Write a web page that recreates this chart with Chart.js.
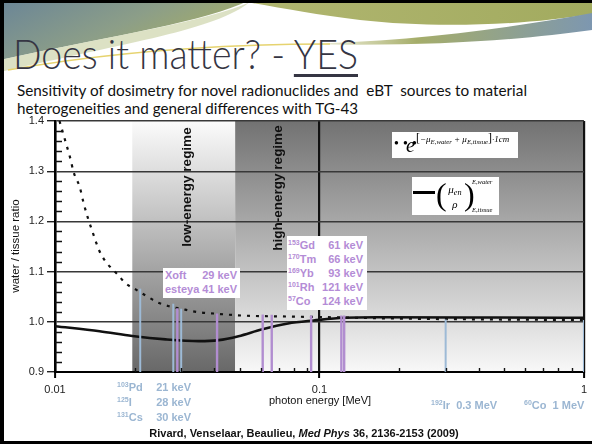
<!DOCTYPE html>
<html>
<head>
<meta charset="utf-8">
<script src="https://cdn.jsdelivr.net/npm/chart.js@4.4.1/dist/chart.umd.min.js"></script>
<style>
  html, body { margin:0; padding:0; background:#fff; }
  #slide { position:relative; width:592px; height:444px; overflow:hidden; background:#fff;
           font-family:"Liberation Sans", Arial, sans-serif; }
  #deco, #chart { position:absolute; left:0; top:0; }
  .abs { position:absolute; white-space:nowrap; }
  .edge { position:absolute; background:#000; }
  #title { left:13px; top:32px; font-family:Lato, "Open Sans", sans-serif; font-weight:300;
           font-size:42px; line-height:42px; color:#353543; transform-origin:0 50%; }
  #title u { text-decoration-thickness:2.5px; text-underline-offset:5px; }
  .sub { left:17px; font-family:Lato, "Open Sans", sans-serif; font-size:15px; line-height:18px;
         color:#111; transform-origin:0 50%; }
  .iso { font-weight:bold; font-size:11px; line-height:14px; }
  .iso sup { font-size:7px; vertical-align:4px; line-height:0; }
  .est { color:#9bb6d2; }
  .nov { color:#b48cd6; }
  .box { background:#fff; }
  .row { display:flex; justify-content:space-between; height:14px; line-height:14px; }
  .rot { transform:translate(-50%,-50%) rotate(-90deg); }
  .regime { font-weight:bold; font-size:13.5px; color:#111; }
  .math { font-family:"Liberation Serif", "DejaVu Serif", serif; font-style:italic; color:#000; }
  .math sub { font-size:0.75em; vertical-align:-2px; line-height:0; }
</style>
</head>
<body>
<div id="slide">
  <svg id="deco" width="592" height="90" viewBox="0 0 592 90">
    <defs>
      <linearGradient id="gL" x1="0" y1="0" x2="1" y2="0.5">
        <stop offset="0" stop-color="#6a8597"/>
        <stop offset="0.55" stop-color="#8c9e88"/>
        <stop offset="1" stop-color="#a8b063"/>
      </linearGradient>
      <linearGradient id="gR" x1="0" y1="0" x2="1" y2="0">
        <stop offset="0" stop-color="#b1b671"/>
        <stop offset="1" stop-color="#a2ab5f"/>
      </linearGradient>
      <linearGradient id="gB" x1="0" y1="0" x2="1" y2="0">
        <stop offset="0" stop-color="#c9c98f" stop-opacity="0.2"/>
        <stop offset="0.4" stop-color="#a5ad6a"/>
        <stop offset="1" stop-color="#7d97b0"/>
      </linearGradient>
    </defs>
    <path d="M0,0 H250 C205,22 120,34 0,60 Z" fill="url(#gL)"/>
    <path d="M0,60 C120,34 205,22 250,2 C215,30 130,42 0,72 Z" fill="#d3dab5" opacity="0.8"/>
    <path d="M235,0 H592 V14 C520,26 430,28 360,20 C310,14 270,6 235,0 Z" fill="url(#gR)"/>
    <path d="M300,44 C400,42 500,30 592,13 V30 C520,40 430,47 300,44 Z" fill="url(#gB)"/>
    <path d="M8,70 C110,52 210,44 330,44" stroke="#e6d36f" stroke-width="1.5" fill="none"/>
  </svg>

  <div id="title" class="abs">Does it matter? - <u>YES</u></div>
  <div id="sub1" class="abs sub" style="top:81px;">Sensitivity of dosimetry for novel radionuclides and&nbsp; eBT&nbsp; sources to material</div>
  <div id="sub2" class="abs sub" style="top:99px;">heterogeneities and general differences with TG-43</div>

  <canvas id="chart" width="592" height="444"></canvas>

  <div class="abs rot regime" style="left:186px;top:187px;">low-energy regime</div>
  <div class="abs rot regime" style="left:277px;top:188px;">high-energy regime</div>
  <div class="abs rot" style="left:15px;top:246px;font-size:11.5px;color:#111;">water / tissue ratio</div>
  <div class="abs" style="left:320px;top:400px;transform:translate(-50%,-50%);font-size:11px;color:#111;">photon energy [MeV]</div>
  <div class="abs" style="left:304px;top:433px;transform:translate(-50%,-50%);font-size:11px;font-weight:bold;color:#111;">Rivard, Venselaar, Beaulieu, <i>Med Phys</i> 36, 2136-2153 (2009)</div>

  <!-- isotope label groups, filled from the data arrays -->
  <div id="grpLow" class="abs iso est" style="left:117px;top:380px;width:74px;"></div>
  <div id="grpEbt" class="abs iso nov box" style="left:163px;top:268px;width:72px;height:30px;padding:0 3px 0 2px;"></div>
  <div id="grpHigh" class="abs iso nov box" style="left:287px;top:236px;width:75px;height:72px;padding:2px 4px 0 1px;"></div>
  <div id="grpIr" class="abs iso est" style="left:431px;top:398px;"></div>
  <div id="grpCo" class="abs iso est" style="left:524px;top:398px;"></div>

  <!-- curve keys -->
  <div class="abs box" style="left:392px;top:132px;width:126px;height:26px;">
    <span class="abs" style="left:2px;top:6px;font-size:8px;font-weight:bold;letter-spacing:1px;">&#9679; &#9679; &#9679;</span>
    <span class="abs math" style="left:14px;top:3px;font-size:20px;line-height:20px;">e</span>
    <span class="abs math" style="left:24px;top:1px;font-size:9px;line-height:10px;"><span style="font-style:normal;font-size:12px;">[</span>&minus;&mu;<sub>E,water</sub> + &mu;<sub>E,tissue</sub><span style="font-style:normal;font-size:12px;">]</span>&middot;1<i>cm</i></span>
  </div>
  <div class="abs box" style="left:412px;top:177px;width:87px;height:38px;">
    <div class="abs" style="left:1px;top:14px;width:22px;height:3px;background:#000;"></div>
    <span class="abs math" style="left:24px;top:0px;font-size:32px;line-height:34px;font-style:normal;">(</span>
    <div class="abs math" style="left:33px;top:6px;width:20px;text-align:center;font-size:11px;line-height:13px;">
      <div>&mu;<sub>en</sub></div>
      <div style="margin-top:2px;">&rho;</div>
    </div>
    <span class="abs math" style="left:52px;top:0px;font-size:32px;line-height:34px;font-style:normal;">)</span>
    <span class="abs math" style="left:60px;top:1px;font-size:6.5px;">E,water</span>
    <span class="abs math" style="left:60px;top:29px;font-size:6.5px;">E,tissue</span>
  </div>

  <div class="edge" style="left:0;top:0;width:4px;height:444px;"></div>
  <div class="edge" style="left:0;top:0;width:592px;height:3px;"></div>
  <div class="edge" style="left:0;top:441px;width:592px;height:3px;"></div>
</div>

<script>
// exp[(-mu_water + mu_tissue) * 1 cm]  (dashed curve)
const dashedEnergy = [0.0104, 0.01097, 0.01138, 0.01178, 0.01241, 0.01285, 0.01333, 0.01391, 0.01424,
                      0.01475, 0.01553, 0.01632, 0.01727, 0.01845, 0.02024, 0.02207, 0.0246, 0.02699,
                      0.02986, 0.03497, 0.03982, 0.05069, 0.0761, 0.1, 0.1966, 0.466, 1.0];
const dashedRatio  = [1.400, 1.358, 1.329, 1.297, 1.268, 1.235, 1.206, 1.177, 1.161,
                      1.140, 1.120, 1.107, 1.094, 1.077, 1.064, 1.052, 1.038, 1.031,
                      1.026, 1.019, 1.0165, 1.0125, 1.0105, 1.0095, 1.0065, 1.0046, 1.0036];

// (mu_en / rho) water over tissue  (solid curve)
const solidEnergy = [0.01, 0.01475, 0.0196, 0.0262, 0.035, 0.0416, 0.0494, 0.0604, 0.076, 0.0952, 0.124, 0.165, 0.466, 1.0];
const solidRatio  = [0.9913, 0.9813, 0.9718, 0.965, 0.9615, 0.9635, 0.9714, 0.9847, 0.9966, 1.0026, 1.008, 1.009, 1.0085, 1.008];

// brachytherapy sources: name, photon energy (MeV), height of the marker line, kind
const isotopeNames  = ['103Pd', '125I', '131Cs', 'Xoft', 'esteya', '153Gd', '170Tm', '169Yb', '101Rh', '57Co', '192Ir', '60Co'];
const isotopeEnergy = [0.021, 0.028, 0.030, 0.029, 0.041, 0.061, 0.066, 0.093, 0.121, 0.124, 0.3, 1.0];
const isotopeTop    = [1.066, 1.036, 1.026, 1.027, 1.0165, 1.0145, 1.014, 1.0125, 1.0125, 1.0125, 1.0046, 1.0036];
const isotopeKind   = ['established', 'established', 'established', 'novel', 'novel', 'novel', 'novel', 'novel',
                       'novel', 'novel', 'established', 'established'];

// energy range of the low-energy regime (MeV)
const lowRegime = [0.0196, 0.048];

// y axis ticks
const yMin = 0.9, yMax = 1.4, yStep = 0.1, yMinorStep = 0.02;

const kindColor = { established: '#9dbad6', novel: '#b18dd0' };

function pts(xs, ys) { return xs.map((x, i) => ({ x, y: ys[i] })); }

const datasets = [
  { data: pts(solidEnergy, solidRatio), borderColor: '#111', borderWidth: 2.6, pointRadius: 0,
    cubicInterpolationMode: 'monotone', order: 3, clip: 0 },
  { data: pts(dashedEnergy, dashedRatio), borderColor: '#111', borderWidth: 2.2, borderDash: [3, 6],
    pointRadius: 0, cubicInterpolationMode: 'monotone', order: 2, clip: 0 }
];
isotopeEnergy.forEach((e, i) => {
  datasets.push({
    data: [{ x: e, y: yMin }, { x: e, y: isotopeTop[i] }],
    borderColor: kindColor[isotopeKind[i]],
    borderWidth: isotopeKind[i] === 'novel' ? 2.4 : 2,
    pointRadius: 0, order: 1, clip: 0
  });
});

const isDecade = v => Math.abs(Math.log10(v) - Math.round(Math.log10(v))) < 1e-6;
const clear = 'rgba(0,0,0,0)';

const regimeShading = {
  id: 'regimeShading',
  beforeDraw(chart) {
    const { ctx, chartArea: a, scales: { x } } = chart;
    const x1 = x.getPixelForValue(lowRegime[0]);
    const x2 = x.getPixelForValue(lowRegime[1]);
    ctx.save();
    ctx.fillStyle = '#fff';
    ctx.fillRect(a.left, a.top, x1 - a.left, a.bottom - a.top);
    let g = ctx.createLinearGradient(0, a.top, 0, a.bottom);
    g.addColorStop(0, '#fbfbfb');
    g.addColorStop(1, '#686868');
    ctx.fillStyle = g;
    ctx.fillRect(x1, a.top, x2 - x1, a.bottom - a.top);
    g = ctx.createLinearGradient(0, a.top, 0, a.bottom);
    g.addColorStop(0, '#727272');
    g.addColorStop(1, '#f8f8f8');
    ctx.fillStyle = g;
    ctx.fillRect(x2, a.top, a.right - x2, a.bottom - a.top);
    ctx.restore();
  }
};

const minorTicks = {
  id: 'minorTicks',
  afterDraw(chart) {
    const { ctx, chartArea: a, scales: { x, y } } = chart;
    ctx.save();
    ctx.strokeStyle = '#111';
    ctx.lineWidth = 1.4;
    ctx.beginPath();
    const n = Math.round((yMax - yMin) / yMinorStep);
    const per = Math.round(yStep / yMinorStep);
    for (let k = 1; k < n; k++) {
      if (k % per === 0) continue;
      const py = Math.round(y.getPixelForValue(yMin + k * yMinorStep)) + 0.5;
      ctx.moveTo(a.left, py); ctx.lineTo(a.left + 7, py);
    }
    for (const dec of [0.01, 0.1]) {
      for (let m = 2; m <= 9; m++) {
        const px = Math.round(x.getPixelForValue(dec * m)) + 0.5;
        ctx.moveTo(px, a.bottom); ctx.lineTo(px, a.bottom - 4);
      }
    }
    ctx.stroke();
    ctx.restore();
  }
};

const tickFont = { family: '"Liberation Sans", Arial, sans-serif', size: 11 };

new Chart(document.getElementById('chart'), {
  type: 'line',
  data: { datasets },
  options: {
    responsive: false,
    animation: false,
    events: [],
    layout: { padding: { top: 121, right: 4, left: 0, bottom: 0 } },
    plugins: { legend: { display: false }, tooltip: { enabled: false }, title: { display: false } },
    scales: {
      x: {
        type: 'logarithmic', min: 0.01, max: 1,
        border: { display: true, color: '#000', width: 2 },
        grid: {
          color: c => (c.tick && isDecade(c.tick.value) && c.tick.value > 0.011) ? '#111' : clear,
          lineWidth: 2.2,
          tickColor: c => (c.tick && isDecade(c.tick.value)) ? '#000' : clear,
          tickLength: 6,
          tickWidth: 2
        },
        ticks: {
          autoSkip: false, maxRotation: 0, padding: 5, color: '#222', font: tickFont,
          callback: v => isDecade(v) ? String(Number(v.toPrecision(1))) : ''
        },
        afterFit: s => { s.height = 72; }
      },
      y: {
        min: yMin, max: yMax,
        border: { display: true, color: '#000', width: 2.6 },
        grid: { color: '#383838', lineWidth: 1.4, tickColor: '#222', tickLength: 8, tickWidth: 1.4 },
        ticks: { stepSize: yStep, padding: 3, color: '#222', font: tickFont, callback: v => v.toFixed(1) },
        afterFit: s => { s.width = 55; }
      }
    }
  },
  plugins: [regimeShading, minorTicks]
});

// isotope labels
function nameHTML(n) {
  const m = n.match(/^(\d+)(\D+)$/);
  return m ? '<sup>' + m[1] + '</sup>' + m[2] : n;
}
function energyText(e) {
  return e < 0.2 ? Math.round(e * 1000) + ' keV' : Number(e.toPrecision(2)) + ' MeV';
}
function fillRows(id, idx, joined) {
  const el = document.getElementById(id);
  el.innerHTML = idx.map(i => joined
    ? '<div>' + nameHTML(isotopeNames[i]) + '&nbsp; ' + energyText(isotopeEnergy[i]) + '</div>'
    : '<div class="row"><span>' + nameHTML(isotopeNames[i]) + '</span><span>' + energyText(isotopeEnergy[i]) + '</span></div>'
  ).join('');
}
fillRows('grpLow', [0, 1, 2], false);
fillRows('grpEbt', [3, 4], false);
fillRows('grpHigh', [5, 6, 7, 8, 9], false);
fillRows('grpIr', [10], true);
fillRows('grpCo', [11], true);
document.querySelectorAll('#grpLow .row').forEach(r => { r.style.height = '15px'; r.style.lineHeight = '15px'; });

// heading text widths
function fit(id, w) {
  const el = document.getElementById(id);
  el.style.transform = 'none';
  const cur = el.getBoundingClientRect().width;
  if (cur > 0) el.style.transform = 'scaleX(' + (w / cur) + ')';
}
function fitAll() { fit('title', 345); fit('sub1', 510); fit('sub2', 341); }
fitAll();
if (document.fonts && document.fonts.ready) document.fonts.ready.then(fitAll);
</script>
</body>
</html>
